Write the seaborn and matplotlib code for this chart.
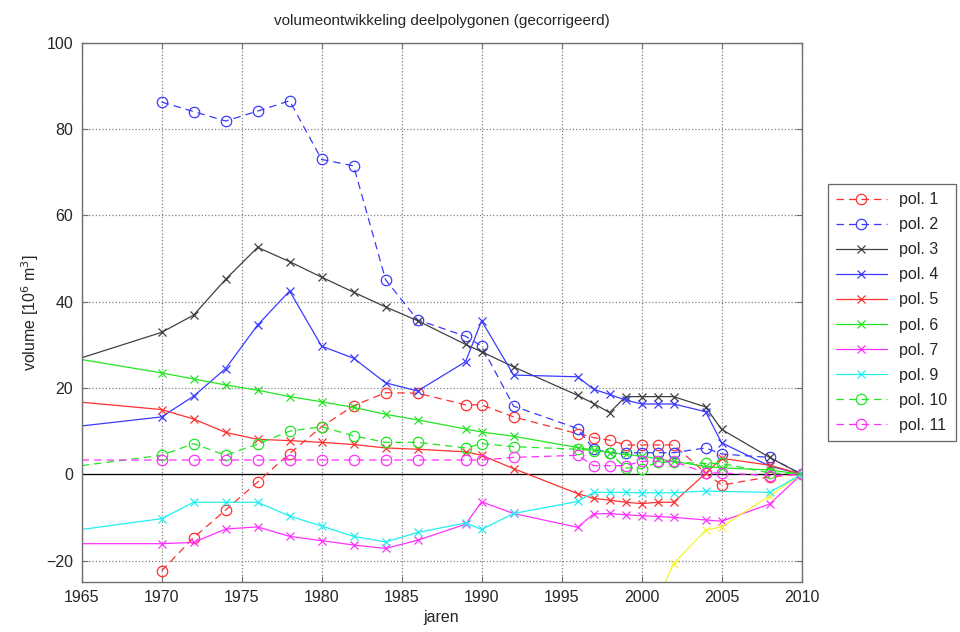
import numpy as np
import pandas as pd
import matplotlib
matplotlib.use('Agg')
import matplotlib.pyplot as plt
import seaborn as sns

# ---- data ----
years = [1965, 1970, 1972, 1974, 1976, 1978, 1980, 1982, 1984, 1986, 1989, 1990,
         1992, 1996, 1997, 1998, 1999, 2000, 2001, 2002, 2004, 2005, 2008, 2010]
years_70 = years[1:]
years_9 = [y for y in years if y != 2005]
years_8 = [2001, 2002, 2004, 2005, 2008, 2010]

pol1 = [-22.4, -14.7, -8.3, -1.8, 4.8, 11.0, 15.9, 18.9, 18.8, 16.1, 16.1,
        13.3, 9.4, 8.5, 7.9, 6.8, 6.8, 6.8, 6.8, 0.3, -2.5, -0.6, 0.0]
pol2 = [86.3, 84.1, 81.9, 84.2, 86.6, 73.0, 71.5, 45.1, 35.8, 32.0, 29.7,
        15.8, 10.6, 5.8, 5.0, 5.0, 5.0, 5.0, 5.0, 6.1, 4.7, 3.9, 0.0]
pol3 = [27.0, 32.9, 36.9, 45.2, 52.6, 49.3, 45.7, 42.2, 38.8, 35.6, 30.1, 28.4,
        24.9, 18.3, 16.4, 14.3, 18.0, 18.0, 18.0, 18.0, 15.6, 10.4, 3.9, 0.0]
pol4 = [11.2, 13.3, 18.1, 24.5, 34.6, 42.5, 29.7, 26.9, 21.2, 19.3, 26.1, 35.6,
        23.0, 22.6, 19.7, 18.5, 17.2, 16.3, 16.3, 16.3, 14.5, 7.3, 1.9, 0.0]
pol5 = [16.7, 15.0, 12.8, 9.7, 8.1, 7.8, 7.4, 6.9, 6.1, 5.8, 5.2, 4.4,
        1.3, -4.5, -5.6, -6.0, -6.5, -6.8, -6.5, -6.5, 0.2, 3.7, 2.1, 0.0]
pol6 = [26.6, 23.5, 22.1, 20.7, 19.5, 18.0, 16.8, 15.5, 13.9, 12.6, 10.5, 9.8,
        8.8, 6.2, 5.6, 5.0, 4.6, 4.2, 3.6, 3.0, 1.8, 1.5, 1.0, 0.0]
pol7 = [-16.1, -16.1, -15.8, -12.7, -12.2, -14.4, -15.4, -16.4, -17.2, -15.3, -11.6, -6.4,
        -9.1, -12.3, -9.2, -9.1, -9.4, -9.6, -9.8, -10.0, -10.6, -10.9, -6.9, 0.0]
pol8 = [-29.0, -20.7, -13.0, -12.2, -5.0, 0.0]
pol9 = [-12.8, -10.3, -6.5, -6.5, -6.5, -9.7, -12.0, -14.4, -15.7, -13.5, -11.3, -12.8,
        -9.1, -6.3, -4.2, -4.2, -4.2, -4.3, -4.3, -4.3, -3.9, -4.2, 0.0]
pol10 = [2.0, 4.4, 7.1, 4.4, 7.0, 10.0, 11.0, 8.9, 7.4, 7.4, 6.1, 7.1,
         6.4, 5.8, 5.5, 5.0, 1.5, 1.3, 2.8, 2.8, 2.5, 2.5, 0.3, 0.0]
pol11 = [3.3, 3.3, 3.3, 3.3, 3.3, 3.3, 3.3, 3.3, 3.3, 3.3, 3.3, 3.3,
         3.9, 4.4, 2.0, 2.0, 2.0, 3.0, 3.0, 3.0, 0.3, 0.3, -0.3, 0.0]

x_ticks = [1965, 1970, 1975, 1980, 1985, 1990, 1995, 2000, 2005, 2010]
y_ticks = [-20, 0, 20, 40, 60, 80, 100]

# ---- style ----
sns.set_style('ticks')
plt.rcParams['font.family'] = ['Liberation Sans', 'DejaVu Sans']
plt.rcParams['font.size'] = 11.5

fig = plt.figure(figsize=(9.6, 6.32), dpi=100)
ax = fig.add_axes([0.085, 0.079, 0.750, 0.853])

RED, BLUE, BLACK = '#ff3030', '#3a3aff', '#404040'
GREEN, MAG, CYAN, YEL = '#22e622', '#ff30ff', '#20f0f0', '#f5f530'

dash = dict(linestyle=(0, (6, 4)), marker='o', markersize=7.5,
            markerfacecolor='none', markeredgewidth=0.9)
solid = dict(linestyle='-', marker='x', markersize=6, markeredgewidth=0.9)

# (label, x, y, colour, style, skip first marker)
series = [
    ('pol. 1', years_70, pol1, RED, dash, False),
    ('pol. 2', years_70, pol2, BLUE, dash, False),
    ('pol. 3', years, pol3, BLACK, solid, True),
    ('pol. 4', years, pol4, BLUE, solid, True),
    ('pol. 5', years, pol5, RED, solid, True),
    ('pol. 6', years, pol6, GREEN, solid, True),
    ('pol. 7', years, pol7, MAG, solid, True),
    ('_pol. 8', years_8, pol8, YEL, solid, True),
    ('pol. 9', years_9, pol9, CYAN, solid, True),
    ('pol. 10', years, pol10, GREEN, dash, True),
    ('pol. 11', years, pol11, MAG, dash, True),
]

ax.axhline(0, color='black', lw=0.9, zorder=1)

for label, xs, ys, col, st, skip in series:
    kw = dict(st)
    if skip:
        kw['markevery'] = slice(1, None)
    sns.lineplot(x=xs, y=ys, ax=ax, color=col, lw=0.9, label=label,
                 markeredgecolor=col, estimator=None, sort=False, **kw)

ax.set_xlim(1965, 2010)
ax.set_ylim(-25, 100)
ax.set_xticks(x_ticks)
ax.set_yticks(y_ticks)
ax.grid(True, linestyle=':', color='#808080', lw=0.9)
ax.tick_params(direction='in', top=True, right=True, length=4,
               color='#707070', labelsize=11.5, pad=6)
for s in ax.spines.values():
    s.set_color('#707070')
    s.set_linewidth(1.0)

ax.set_title('volumeontwikkeling deelpolygonen (gecorrigeerd)', fontsize=11, pad=13)
ax.set_xlabel('jaren', fontsize=11.5, labelpad=3)
ax.set_ylabel('volume [10$^6$ m$^3$]', fontsize=11.5)

h, l = ax.get_legend_handles_labels()
leg = ax.legend(h, l, loc='center left', bbox_to_anchor=(1.025, 0.5),
                frameon=True, fancybox=False, edgecolor='#404040',
                fontsize=11.5, handlelength=3.2, borderpad=0.5,
                labelspacing=0.63)
leg.get_frame().set_linewidth(0.9)
for lh in leg.legend_handles:
    lh.set_markevery([1])

fig.savefig('out.png', dpi=100)
